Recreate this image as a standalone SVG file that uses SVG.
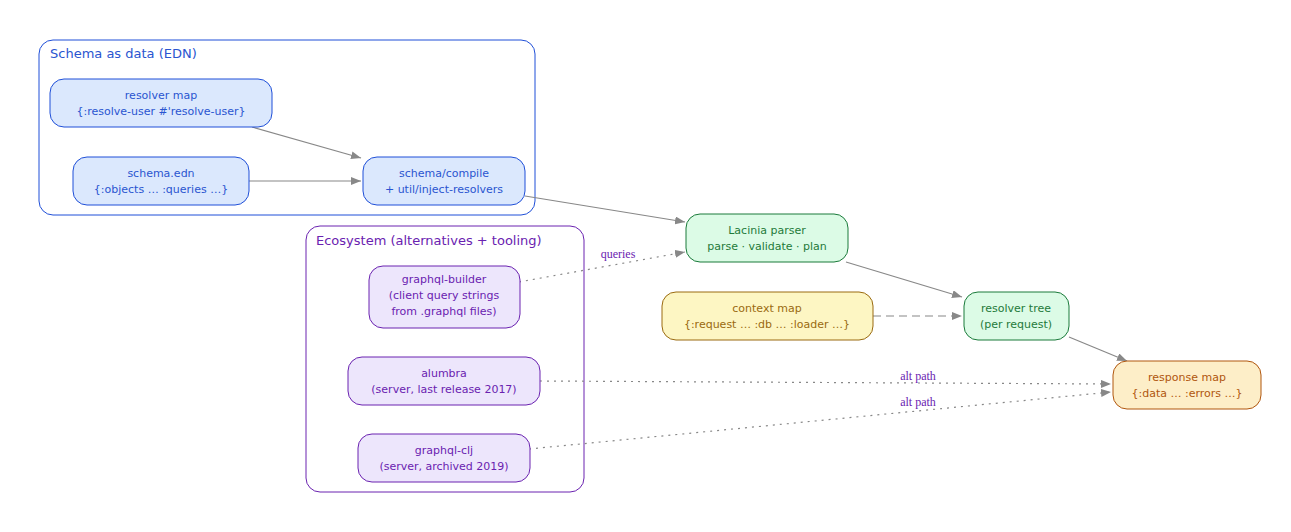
<svg xmlns="http://www.w3.org/2000/svg" width="1291" height="532" viewBox="0 0 1291 532">
<style>
text{font-family:"DejaVu Sans",sans-serif;font-size:11px;text-anchor:middle}
.ct{font-size:13px;text-anchor:start}
.b rect{fill:#dbe8fd;stroke:#1f4fd8}.b text{fill:#2a55d0}
.g rect{fill:#dcfbe6;stroke:#1a7a3a}.g text{fill:#1f7a3a}
.y rect{fill:#fdf6c3;stroke:#9a6a10}.y text{fill:#9a6a10}
.o rect{fill:#fdeec8;stroke:#b0560e}.o text{fill:#b0560e}
.p rect{fill:#ede6fc;stroke:#6a22b0}.p text{fill:#6a22b0}
.e{stroke:#888;fill:none;stroke-width:1.2}
.el{font-family:"Liberation Serif",serif;font-size:12px;fill:#6a22b0}
</style>
<defs><marker id="a" markerWidth="10" markerHeight="8" refX="10" refY="4" orient="auto" markerUnits="userSpaceOnUse"><path d="M0,0L10,4L0,8z" fill="#888"/></marker></defs>
<rect x="39" y="40" width="496" height="175" rx="14" fill="#fff" stroke="#1f4fd8"/>
<text class="ct" x="50" y="58" fill="#2a55d0">Schema as data (EDN)</text>
<rect x="306" y="226" width="278" height="266" rx="14" fill="#fff" stroke="#6a22b0"/>
<text class="ct" x="316" y="245" fill="#6a22b0">Ecosystem (alternatives + tooling)</text>
<g id="edges">
<path class="e" d="M252,127L361,158" marker-end="url(#a)"/>
<path class="e" d="M249,181L361,181" marker-end="url(#a)"/>
<path class="e" d="M525,196L685,222" marker-end="url(#a)"/>
<path class="e" d="M846,262L962,297" marker-end="url(#a)"/>
<path class="e" d="M873,316L962,316" stroke-dasharray="8,5" marker-end="url(#a)"/>
<path class="e" d="M1069,337L1127,361" marker-end="url(#a)"/>
<path class="e" d="M519,282L685,252" stroke-dasharray="2,5" marker-end="url(#a)"/>
<text class="el" x="618" y="258">queries</text>
<path class="e" d="M540,381L1111,384" stroke-dasharray="2,5" marker-end="url(#a)"/>
<text class="el" x="918" y="380">alt path</text>
<path class="e" d="M529,449L1111,392" stroke-dasharray="2,5" marker-end="url(#a)"/>
<text class="el" x="918" y="406">alt path</text>
</g>
<g id="resolver-map" class="b"><rect x="50" y="79" width="222" height="48" rx="14"/><text x="161" y="99">resolver map</text><text x="161" y="115">{:resolve-user #'resolve-user}</text></g>
<g id="schema-edn" class="b"><rect x="73" y="157" width="176" height="48" rx="14"/><text x="161" y="177">schema.edn</text><text x="161" y="193">{:objects … :queries …}</text></g>
<g id="compile" class="b"><rect x="363" y="157" width="162" height="48" rx="14"/><text x="444" y="177">schema/compile</text><text x="444" y="193">+ util/inject-resolvers</text></g>
<g id="lacinia" class="g"><rect x="686" y="214" width="162" height="48" rx="14"/><text x="767" y="234">Lacinia parser</text><text x="767" y="250">parse · validate · plan</text></g>
<g id="context" class="y"><rect x="662" y="292" width="211" height="48" rx="14"/><text x="767" y="312">context map</text><text x="767" y="328">{:request … :db … :loader …}</text></g>
<g id="tree" class="g"><rect x="964" y="292" width="105" height="48" rx="14"/><text x="1016" y="312">resolver tree</text><text x="1016" y="328">(per request)</text></g>
<g id="response" class="o"><rect x="1113" y="361" width="148" height="48" rx="14"/><text x="1187" y="381">response map</text><text x="1187" y="397">{:data … :errors …}</text></g>
<g id="builder" class="p"><rect x="369" y="266" width="151" height="62" rx="14"/><text x="444" y="283">graphql-builder</text><text x="444" y="299">(client query strings</text><text x="444" y="315">from .graphql files)</text></g>
<g id="alumbra" class="p"><rect x="348" y="357" width="192" height="48" rx="14"/><text x="444" y="377">alumbra</text><text x="444" y="393">(server, last release 2017)</text></g>
<g id="graphql-clj" class="p"><rect x="358" y="434" width="172" height="48" rx="14"/><text x="444" y="454">graphql-clj</text><text x="444" y="470">(server, archived 2019)</text></g>
</svg>
